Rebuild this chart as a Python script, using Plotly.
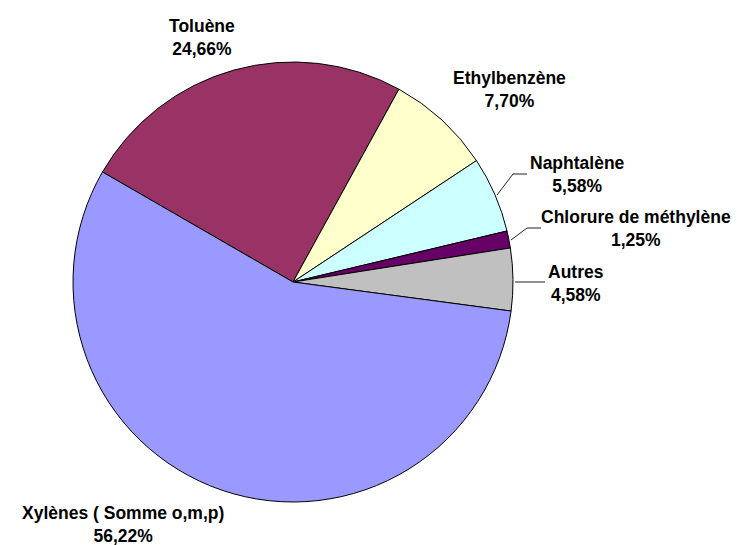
import plotly.graph_objects as go

labels = ["Toluène", "Ethylbenzène", "Naphtalène", "Chlorure de méthylène", "Autres", "Xylènes ( Somme o,m,p)"]
values = [24.66, 7.70, 5.58, 1.25, 4.58, 56.22]
colors = ["#993366", "#FFFFCC", "#CCFFFF", "#660066", "#C0C0C0", "#9999FF"]

# label centre positions in page pixels (x centre, y middle of the two lines)
label_pos = [(202, 37), (509, 89), (577, 175), (636, 229), (576, 283), (123, 524)]

# page offset of the plot div (browser default body margin)
OFF = 8
W, H = 740 - OFF, 545 - OFF


def px(x):
    return (x - OFF) / W


def py(y):
    return 1 - (y - OFF) / H


fig = go.Figure(go.Pie(
    labels=labels,
    values=values,
    marker=dict(colors=colors, line=dict(color="black", width=1)),
    sort=False,
    direction="clockwise",
    rotation=-60,
    textinfo="none",
    hoverinfo="label+percent",
    showlegend=False,
    domain=dict(x=[px(73), px(513)], y=[py(502), py(62)]),
))

for lab, val, (x, y) in zip(labels, values, label_pos):
    txt = "<b>" + lab + "<br>" + f"{val:.2f}".replace(".", ",") + "%</b>"
    fig.add_annotation(
        x=px(x), y=py(y), xref="paper", yref="paper",
        xanchor="center", yanchor="middle", align="center",
        text=txt, showarrow=False, borderpad=0,
        font=dict(family="Liberation Sans, Arial", size=17.5, color="black"),
    )

leaders = [
    [(497, 195), (513, 174), (527, 174)],
    [(511, 240), (527, 228), (541, 228)],
    [(515, 282), (545, 282)],
]
for pts in leaders:
    path = "M " + " L ".join(f"{px(a)},{py(b)}" for a, b in pts)
    fig.add_shape(type="path", path=path, xref="paper", yref="paper",
                  line=dict(color="#222222", width=1))

fig.update_layout(
    width=W, height=H,
    margin=dict(l=0, r=0, t=0, b=0),
    paper_bgcolor="white", plot_bgcolor="white",
)

fig.write_html("out.html")
